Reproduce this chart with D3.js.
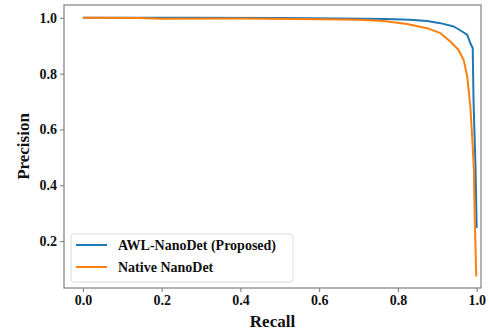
<!DOCTYPE html>
<html>
<head>
<meta charset="utf-8">
<script src="https://cdn.jsdelivr.net/npm/d3@7"></script>
<style>
    html, body { margin: 0; padding: 0; background: #fff; }
    svg { display: block; }
    svg text { font-family: "Liberation Serif", "Times New Roman", serif; font-weight: bold; }
</style>
</head>
<body>
<svg id="chart" width="489" height="333"></svg>
<script>
"use strict";

// PR curves
const awlRecall = [0, 0.14, 0.27, 0.5, 0.65, 0.77, 0.83, 0.874, 0.908, 0.942, 0.963, 0.976, 0.984, 0.99, 0.992, 0.997, 1.0];
const awlPrecision = [1.0, 1.0, 1.0, 0.999, 0.998, 0.996, 0.993, 0.989, 0.981, 0.969, 0.951, 0.939, 0.909, 0.891, 0.706, 0.467, 0.247];

const nativeRecall = [0, 0.14, 0.2, 0.4, 0.6, 0.7, 0.764, 0.823, 0.874, 0.908, 0.933, 0.954, 0.967, 0.976, 0.984, 0.989, 0.993, 0.995, 0.999];
const nativePrecision = [1.0, 0.999, 0.997, 0.998, 0.995, 0.993, 0.989, 0.978, 0.963, 0.945, 0.915, 0.885, 0.849, 0.79, 0.682, 0.563, 0.455, 0.288, 0.073];

const seriesNames = ["AWL-NanoDet (Proposed)", "Native NanoDet"];
const seriesColors = ["#1f77b4", "#ff7f0e"];

const xTicks = [0, 0.2, 0.4, 0.6, 0.8, 1.0];
const yTicks = [0.2, 0.4, 0.6, 0.8, 1.0];

{
    const svg = d3.select("#chart"),
        left = 64, right = 481, top = 5, bottom = 288;

    const x = d3.scaleLinear().domain([-0.048, 1.011]).range([left, right]);
    const y = d3.scaleLinear().domain([0.032, 1.046]).range([bottom, top]);

    const series = [
        awlRecall.map((r, i) => [r, awlPrecision[i]]),
        nativeRecall.map((r, i) => [r, nativePrecision[i]])
    ];

    const line = d3.line().x(d => x(d[0])).y(d => y(d[1]));

    series.forEach((s, i) => {
        svg.append("path")
            .attr("d", line(s))
            .attr("fill", "none")
            .attr("stroke", seriesColors[i])
            .attr("stroke-width", 2)
            .attr("stroke-linejoin", "round");
    });

    const xAxis = svg.append("g")
        .attr("transform", `translate(0,${bottom})`)
        .call(d3.axisBottom(x).tickValues(xTicks).tickFormat(d3.format(".1f"))
            .tickSize(4).tickPadding(3).tickSizeOuter(0));
    const yAxis = svg.append("g")
        .attr("transform", `translate(${left},0)`)
        .call(d3.axisLeft(y).tickValues(yTicks).tickFormat(d3.format(".1f"))
            .tickSize(4).tickPadding(3).tickSizeOuter(0));

    [xAxis, yAxis].forEach(g => {
        g.attr("font-family", null).attr("font-size", null);
        g.select(".domain").remove();
        g.selectAll(".tick line").attr("stroke", "#777");
        g.selectAll(".tick text")
            .attr("fill", "#111")
            .style("font-size", "14px");
    });

    // frame
    svg.append("rect")
        .attr("x", left).attr("y", top)
        .attr("width", right - left).attr("height", bottom - top)
        .attr("fill", "none")
        .attr("stroke", "#808080")
        .attr("stroke-width", 1.2);

    svg.append("text")
        .attr("x", (left + right) / 2)
        .attr("y", 327)
        .attr("text-anchor", "middle")
        .style("font-size", "17px")
        .attr("fill", "#111")
        .text("Recall");

    svg.append("text")
        .attr("transform", `translate(29,${(top + bottom) / 2}) rotate(-90)`)
        .attr("text-anchor", "middle")
        .style("font-size", "17px")
        .attr("fill", "#111")
        .text("Precision");

    // legend
    const legend = svg.append("g").attr("transform", "translate(71,234)");
    legend.append("rect")
        .attr("width", 222).attr("height", 48)
        .attr("rx", 3)
        .attr("fill", "#fff").attr("fill-opacity", 0.85)
        .attr("stroke", "#dddddd");
    seriesNames.forEach((name, i) => {
        const ly = 11 + i * 22;
        legend.append("line")
            .attr("x1", 5).attr("x2", 36)
            .attr("y1", ly).attr("y2", ly)
            .attr("stroke", seriesColors[i])
            .attr("stroke-width", 2);
        legend.append("text")
            .attr("x", 47).attr("y", ly + 5)
            .style("font-size", "14px")
            .attr("fill", "#111")
            .text(name);
    });
}
</script>
</body>
</html>
